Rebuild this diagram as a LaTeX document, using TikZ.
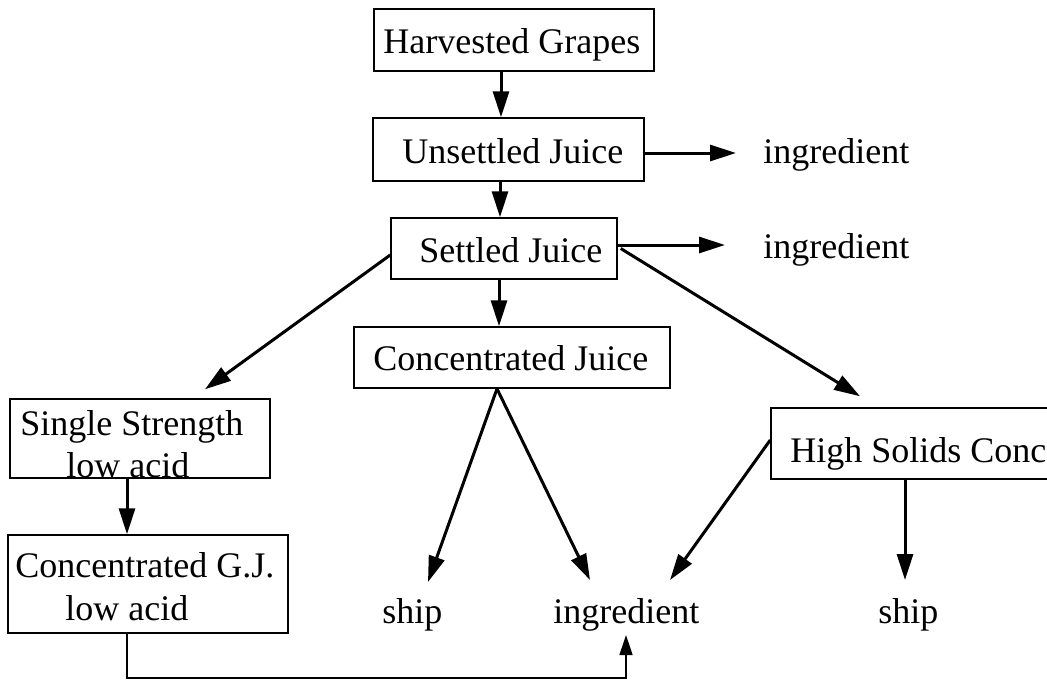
\documentclass[tikz,border=0pt]{standalone}
\usepackage{fontspec}
\setmainfont{Liberation Serif}
\usetikzlibrary{arrows.meta,calc}
\begin{document}
\begin{tikzpicture}[x=0.5pt,y=-0.5pt,
  box/.style={draw,line width=0.75pt,inner sep=0pt},
  lbl/.style={anchor=base west,inner sep=0pt,font=\fontsize{18}{21.5}\selectfont},
  flow/.style={line width=1.5pt,-{Triangle[length=13pt,width=8pt]}},
  thinflow/.style={line width=0.75pt,-{Triangle[length=10pt,width=6.5pt]}}]
\useasboundingbox (0,0) rectangle (1047,681);
\clip (0,0) rectangle (1047,681);
% boxes
\node[box,minimum width=140pt,minimum height=31pt] (hg) at (514,40) {};
\node[box,minimum width=135.5pt,minimum height=31.5pt] (uj) at (508.5,149.5) {};
\node[box,minimum width=113pt,minimum height=30.5pt] (sj) at (504,248.5) {};
\node[box,minimum width=158pt,minimum height=30.5pt] (cj) at (512,357.5) {};
\node[box,minimum width=130pt,minimum height=39.5pt] (ss) at (140,438.5) {};
\node[box,minimum width=140pt,minimum height=49pt] (cg) at (148,584) {};
\node[box,minimum width=149.5pt,minimum height=35.5pt] (hs) at (920.5,443.5) {};
% texts
\node[lbl] (thg) at (383,53) {Harvested Grapes};
\node[lbl] (tuj) at (402,163) {Unsettled Juice};
\node[lbl] (tsj) at (419,262) {Settled Juice};
\node[lbl] (tcj) at (373,370) {Concentrated Juice};
\node[lbl] (tss1) at (20,435) {Single Strength};
\node[lbl] (tss2) at (66,477) {low acid};
\node[lbl] (tcg1) at (15,577) {Concentrated G.J.};
\node[lbl] (tcg2) at (65,620) {low acid};
\node[lbl] (ths) at (790,462) {High Solids Conc};
\node[lbl] (ing1) at (763,163) {ingredient};
\node[lbl] (ing2) at (763,258) {ingredient};
\node[lbl] (ship1) at (382,623) {ship};
\node[lbl] (ing3) at (553,623) {ingredient};
\node[lbl] (ship2) at (878,623) {ship};
% arrows
\draw[flow] ($(hg.south)+(-13,0)$) -- ($(uj.north)+(-7.5,0)$);
\draw[flow] ($(uj.south)+(-8.5,0)$) -- ($(sj.north)+(-4,0)$);
\draw[flow] ($(sj.south)+(-5,0)$) -- ($(cj.north)+(-13,0)$);
\draw[flow] ($(uj.east)+(0,3.5)$) -- ($(ing1.base west)+(-27,-10)$);
\draw[flow] ($(sj.east)+(0,-3.5)$) -- ($(ing2.base west)+(-38,-13)$);
\draw[flow] ($(sj.west)+(0,6.5)$) -- ($(ss.north)+(65,-9)$);
\draw[flow] ($(sj.east)+(3,0)$) -- ($(hs.north)+(-60.5,-11)$);
\draw[flow] ($(cj.south)+(-15,0)$) -- ($(ship1.base west)+(46,-41)$);
\draw[flow] ($(cj.south)+(-15,0)$) -- ($(ing3.base west)+(37,-43)$);
\draw[flow] ($(hs.west)+(0,-3.5)$) -- ($(ing3.base west)+(117,-43)$);
\draw[flow] ($(hs.south)+(-15.5,0)$) -- ($(ship2.base west)+(27,-43)$);
\draw[flow] ($(ss.south)+(-13,0)$) -- ($(cg.north)+(-21,0)$);
\draw[thinflow] ($(cg.south)+(-21,0)$) -- ++(0,44) -| ($(ing3.base west)+(73,12)$);
\end{tikzpicture}
\end{document}
